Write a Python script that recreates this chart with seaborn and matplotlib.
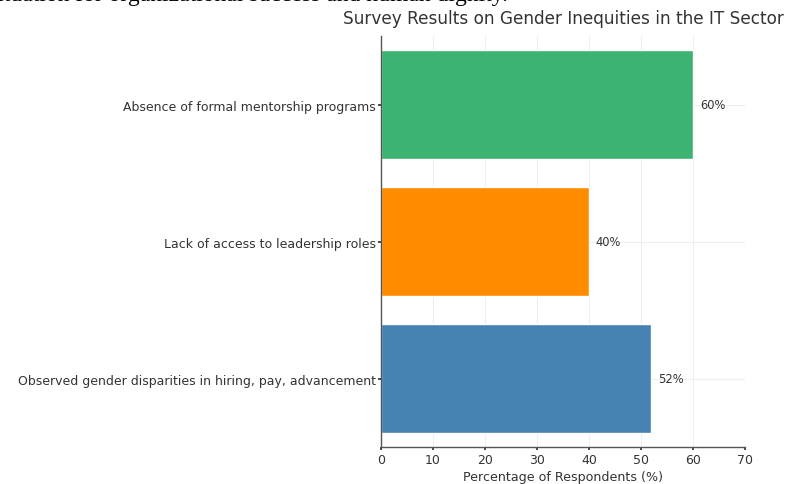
import matplotlib
matplotlib.use("Agg")
import matplotlib.pyplot as plt
import seaborn as sns
import pandas as pd

categories = [
    "Absence of formal mentorship programs",
    "Lack of access to leadership roles",
    "Observed gender disparities in hiring, pay, advancement",
]
percentages = [60, 40, 52]
bar_colors = ["#3cb371", "#ff8c00", "#4682b4"]
x_ticks = [0, 10, 20, 30, 40, 50, 60, 70]

title = "Survey Results on Gender Inequities in the IT Sector"
x_label = "Percentage of Respondents (%)"
doc_text = "it situation for organizational success and human dignity."

sns.set_theme(style="whitegrid")
plt.rcParams["font.family"] = ["DejaVu Sans"]

df = pd.DataFrame({"Category": categories, "Percent": percentages})

fig = plt.figure(figsize=(7.87, 4.85), dpi=100)
ax = fig.add_axes([381 / 787, 1 - 448 / 485, (745 - 381) / 787, (448 - 37) / 485])

sns.barplot(data=df, x="Percent", y="Category", hue="Category",
            palette=bar_colors, legend=False, orient="h", width=0.8,
            saturation=1, ax=ax)

for patch, val in zip(ax.patches, percentages):
    y = patch.get_y() + patch.get_height() / 2
    ax.text(val + 1.3, y, f"{val}%", va="center", ha="left", fontsize=8.3, color="#333333")

ax.set_xlim(0, 70)
ax.set_xticks(x_ticks)
ax.tick_params(axis="both", labelsize=9, colors="#333333", length=2.5, pad=2)
ax.tick_params(axis="y", pad=1)
ax.tick_params(axis="x", bottom=True)
ax.tick_params(axis="y", left=True)
ax.set_xlabel(x_label, fontsize=9.1, color="#333333", labelpad=3)
ax.set_ylabel("")
ax.set_title(title, fontsize=12.2, color="#333333", pad=9)
ax.grid(True, color="#eeeeee", linewidth=0.8)
for s in ["top", "right"]:
    ax.spines[s].set_visible(False)
for s in ["left", "bottom"]:
    ax.spines[s].set_color("#555555")
    ax.spines[s].set_linewidth(1.0)

fig.text(-0.039, 1 - 1 / 485, doc_text, family=["Liberation Serif"], fontsize=17,
         color="black", va="baseline", ha="left")

fig.savefig("out.png", dpi=100)
